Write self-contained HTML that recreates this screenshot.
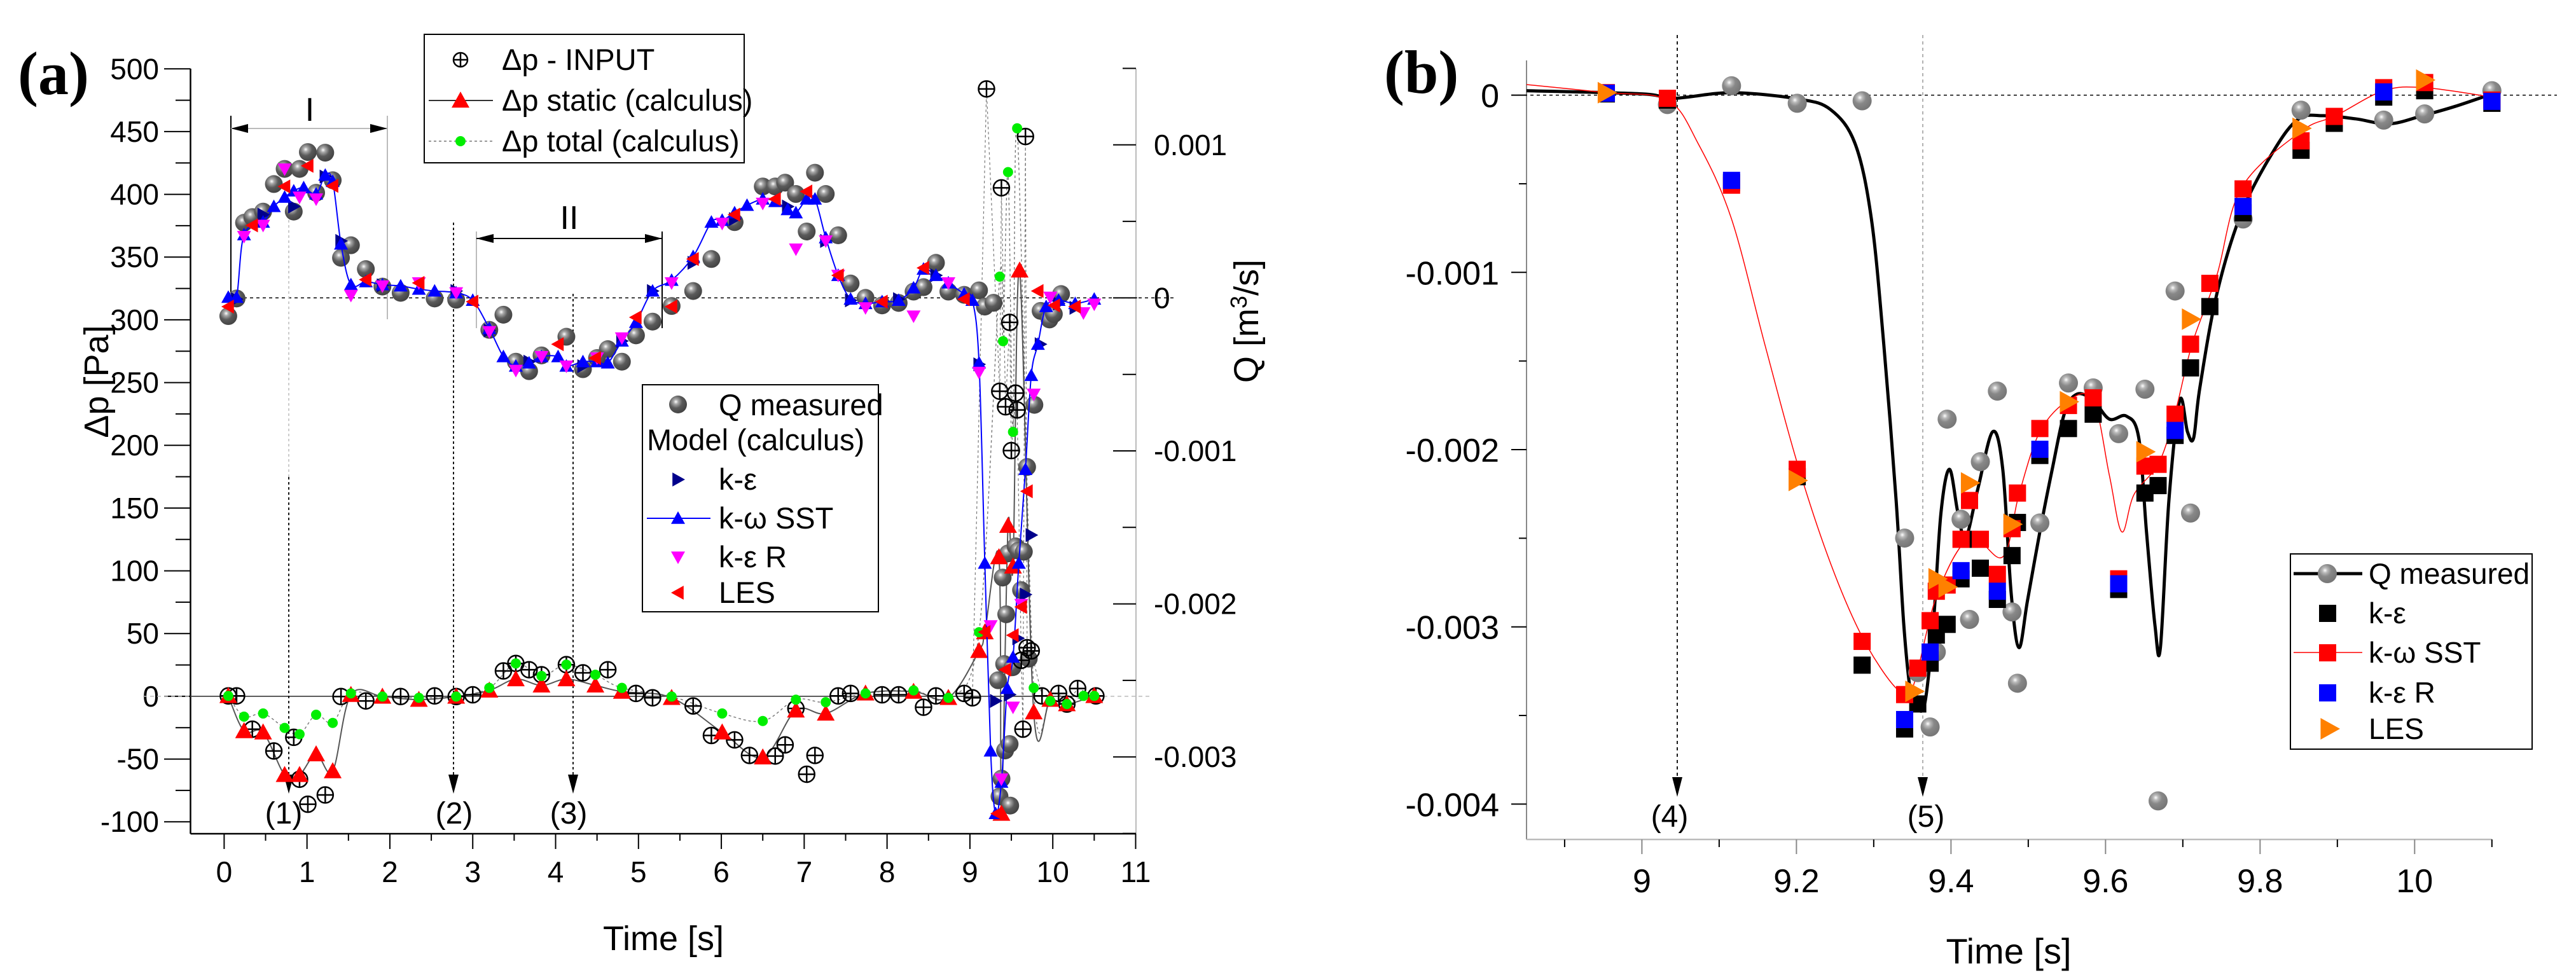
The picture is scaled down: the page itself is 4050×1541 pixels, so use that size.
<!DOCTYPE html>
<html><head><meta charset="utf-8"><style>
html,body{margin:0;padding:0;background:#fff;}
svg{display:block;}
text{font-family:"Liberation Sans",Arial,sans-serif;fill:#000;}
</style></head><body>
<svg id="fig" xmlns="http://www.w3.org/2000/svg" width="4050" height="1541" viewBox="0 0 4050 1541">
<defs>
<radialGradient id="sphA" cx="0.38" cy="0.35" r="0.65"><stop offset="0" stop-color="#fff"/><stop offset="0.2" stop-color="#aaa"/><stop offset="0.55" stop-color="#5a5a5a"/><stop offset="1" stop-color="#444"/></radialGradient>
<radialGradient id="sphB" cx="0.38" cy="0.33" r="0.65"><stop offset="0" stop-color="#fff"/><stop offset="0.2" stop-color="#bbb"/><stop offset="0.5" stop-color="#888"/><stop offset="1" stop-color="#777"/></radialGradient>
<clipPath id="clipA"><rect x="300" y="100" width="1500" height="1211"/></clipPath>
<clipPath id="clipB"><rect x="2400" y="90" width="1540" height="1231"/></clipPath>
</defs>
</svg>
<script>
// ---------- Panel (a) data ----------
// Q measured (units 1e-3 m3/s)
const qmA_t=[0.05,0.15,0.24,0.34,0.47,0.60,0.73,0.84,0.91,1.01,1.11,1.22,1.31,1.41,1.53,1.71,1.91,2.13,2.54,2.80,3.20,3.37,3.52,3.68,3.83,4.13,4.33,4.50,4.63,4.80,4.97,5.17,5.40,5.66,5.88,6.16,6.50,6.65,6.77,6.90,7.03,7.13,7.26,7.41,7.56,7.74,7.94,8.14,8.32,8.44,8.59,8.74,8.93,9.11,9.18];
const qmA_v=[-0.119,-0.004,0.491,0.528,0.564,0.744,0.843,0.564,0.843,0.953,0.687,0.949,0.769,0.262,0.344,0.188,0.074,0.033,-0.004,-0.012,-0.209,-0.110,-0.417,-0.479,-0.376,-0.254,-0.466,-0.393,-0.335,-0.417,-0.245,-0.155,-0.053,0.045,0.254,0.495,0.728,0.728,0.753,0.679,0.434,0.818,0.679,0.409,0.094,0,-0.049,-0.033,0.041,0.070,0.229,0.041,0.020,0.049,-0.057];
const sstA_t=[0.05,0.15,0.24,0.47,0.60,0.73,0.84,0.96,1.11,1.22,1.31,1.41,1.53,1.71,1.91,2.13,2.35,2.54,2.80,3.00,3.20,3.37,3.52,3.68,3.83,4.03,4.13,4.33,4.50,4.63,4.80,4.97,5.17,5.40,5.66,5.88,6.01,6.16,6.31,6.50,6.65,6.80,6.90,7.03,7.13,7.26,7.41,7.56,7.74,7.94,8.14,8.32,8.44,8.59,8.74,8.93,9.03,9.11,9.18,9.25,9.31,9.38,9.45,9.52,9.59,9.67,9.74,9.82,9.92,10.07,10.27,10.50];
const sstA_v=[0.004,0.004,0.413,0.495,0.597,0.658,0.699,0.720,0.679,0.802,0.761,0.352,0.086,0.106,0.086,0.078,0.057,0.045,0.033,-0.016,-0.200,-0.384,-0.446,-0.425,-0.384,-0.384,-0.446,-0.417,-0.417,-0.425,-0.282,-0.160,0.045,0.115,0.270,0.495,0.507,0.556,0.605,0.646,0.630,0.577,0.556,0.646,0.646,0.393,0.147,-0.008,-0.037,-0.025,-0.016,0.065,0.188,0.147,0.098,0.025,-0.016,-0.425,-1.734,-2.961,-3.370,-3.165,-2.552,-2.348,-1.734,-1.121,-0.507,-0.303,-0.057,-0.016,-0.037,-0.008];
const keA_t=[0.15,0.47,0.84,1.22,1.41,1.91,2.80,3.20,3.68,4.33,4.80,5.17,5.66,6.16,6.80,7.26,7.56,8.14,8.59,9.11,9.31,9.48,9.58,9.67,9.74,9.85,10.07,10.27];
const keA_v=[-0.008,0.544,0.597,0.793,0.372,0.082,0.045,-0.213,-0.417,-0.446,-0.282,0.045,0.229,0.515,0.597,0.372,-0.016,-0.008,0.147,-0.434,-2.634,-2.593,-2.225,-1.939,-1.550,-0.303,-0.037,-0.065];
const kerA_t=[0.24,0.47,0.73,0.91,1.11,1.53,1.91,2.35,2.80,3.20,3.52,3.83,4.13,4.50,4.80,5.40,6.01,6.50,6.90,7.26,7.41,7.74,8.32,8.74,9.11,9.25,9.38,9.52,9.62,9.77,9.97,10.37,10.50];
const kerA_v=[0.401,0.474,0.842,0.658,0.646,0.016,0.078,0.098,0.033,-0.221,-0.474,-0.384,-0.446,-0.393,-0.262,0.098,0.487,0.618,0.319,0.372,0.147,-0.065,-0.119,0.098,-0.487,-2.143,-3.145,-2.675,-2.004,-0.630,0.004,-0.098,-0.041];
const lesA_t=[0.05,0.34,0.73,1.01,1.31,1.71,2.35,3.00,4.03,4.48,4.97,5.40,5.66,6.16,6.65,7.03,7.41,7.94,8.44,8.93,9.18,9.33,9.43,9.52,9.62,9.69,9.82,10.02,10.27];
const lesA_v=[-0.057,0.474,0.728,0.863,0.732,0.119,0.098,-0.025,-0.303,-0.393,-0.127,-0.057,0.254,0.544,0.646,0.695,0.147,-0.025,0.196,-0.008,-2.184,-3.370,-2.430,-2.205,-2.020,-1.264,0.045,-0.049,-0.057];
const inA_t=[0.05,0.15,0.34,0.60,0.84,0.91,1.01,1.22,1.41,1.71,2.13,2.54,2.80,3.00,3.37,3.52,3.68,3.83,4.13,4.33,4.63,4.97,5.17,5.66,5.88,6.16,6.34,6.65,6.77,6.90,7.03,7.13,7.41,7.56,7.94,8.14,8.44,8.59,8.93,9.03,9.20,9.36,9.38,9.43,9.48,9.50,9.55,9.57,9.62,9.64,9.67,9.69,9.74,9.87,10.07,10.17,10.30,10.52];
const inA_v=[0.3,0.3,-26.2,-43.6,-32.7,-66.1,-86.0,-78.6,-0.2,-3.7,-0.2,0.3,-0.2,1.2,20.2,26.2,21.2,17.2,25.2,18.7,21.2,2.3,-1.2,-7.7,-31.2,-34.7,-47.1,-47.6,-38.7,-9.7,-62.1,-47.1,0.3,2.3,1.2,1.2,-8.7,0.3,2.3,-1.2,484.0,243.1,405.2,230.7,298.0,195.8,241.6,228.2,28.7,-26.2,446.1,38.7,36.2,0.3,2.3,-6.2,6.2,0.3];
const stA_t=[0.05,0.24,0.47,0.73,0.91,1.11,1.31,1.53,1.91,2.35,2.80,3.20,3.52,3.83,4.13,4.48,4.80,5.40,6.01,6.50,6.90,7.26,7.74,8.32,8.74,9.11,9.18,9.35,9.38,9.46,9.52,9.60,9.77,9.97,10.17,10.50];
const stA_v=[0.3,-27.7,-28.7,-62.6,-62.6,-46.1,-59.6,1.2,-0.2,-2.7,-0.2,4.7,13.7,8.7,13.7,8.7,3.7,-1.2,-28.7,-48.6,-11.2,-13.7,2.3,3.7,-1.2,36.2,51.1,110.9,-93.5,135.9,103.5,339.4,-12.7,-2.7,-6.2,0.3];
const toA_t=[0.05,0.24,0.47,0.73,0.91,1.11,1.31,1.53,1.91,2.35,2.80,3.20,3.52,3.83,4.13,4.48,4.80,5.40,6.01,6.50,6.90,7.26,7.74,8.32,8.74,9.11,9.36,9.40,9.46,9.52,9.57,9.77,9.97,10.17,10.37,10.50];
const toA_v=[0.3,-16.2,-13.7,-25.2,-30.2,-14.7,-21.2,2.3,-0.2,-1.2,-0.2,6.7,26.2,16.2,25.2,17.2,6.7,-0.2,-13.7,-19.7,-2.7,-4.7,2.3,4.7,-1.2,51.1,334.4,283.0,417.7,210.7,452.6,6.7,-3.7,-6.2,0.3,0.3];
const xTicksA=[0,1,2,3,4,5,6,7,8,9,10,11];
const yTicksA=[500,450,400,350,300,250,200,150,100,50,0,-50,-100];
// Q ticks in units of 1e-3 m3/s
const qTicksA=[1,0,-1,-2,-3];
const qLabelsA=["0.001","0","-0.001","-0.002","-0.003"];

// ---------- Panel (b) data ----------
const qmB_t=[9.033,9.116,9.201,9.285,9.340,9.357,9.373,9.381,9.395,9.413,9.424,9.438,9.460,9.479,9.486,9.515,9.552,9.584,9.617,9.651,9.668,9.690,9.710,9.778,9.853,9.960,10.013,10.100];
const qmB_v=[-0.053,0.053,-0.046,-0.032,-2.499,-3.258,-3.565,-3.142,-1.828,-2.393,-2.958,-2.068,-1.670,-2.916,-3.318,-2.414,-1.624,-1.652,-1.910,-1.659,-3.982,-1.105,-2.358,-0.699,-0.085,-0.141,-0.106,0.025];
const curveB_t=[8.850,9.000,9.041,9.116,9.201,9.244,9.276,9.297,9.313,9.329,9.339,9.348,9.355,9.366,9.377,9.387,9.398,9.409,9.419,9.435,9.454,9.467,9.478,9.488,9.499,9.515,9.531,9.547,9.563,9.584,9.605,9.627,9.643,9.653,9.664,9.671,9.682,9.696,9.706,9.714,9.722,9.744,9.776,9.818,9.850,9.882,9.924,9.967,10.010,10.052,10.100];
const curveB_v=[0.025,0.007,-0.018,0.014,-0.021,-0.081,-0.275,-0.699,-1.405,-2.287,-2.993,-3.382,-3.452,-3.434,-2.993,-2.358,-2.111,-2.358,-2.499,-2.217,-1.899,-2.111,-2.817,-3.117,-2.852,-2.464,-2.111,-1.793,-1.687,-1.722,-1.828,-1.811,-1.934,-2.464,-2.993,-3.117,-2.287,-1.722,-1.899,-1.934,-1.652,-1.122,-0.663,-0.311,-0.134,-0.116,-0.134,-0.162,-0.116,-0.064,0.007];
const sstLine_t=[8.850,8.954,9.033,9.073,9.116,9.159,9.201,9.244,9.286,9.329,9.350,9.382,9.424,9.467,9.488,9.515,9.552,9.584,9.605,9.621,9.637,9.669,9.690,9.712,9.744,9.776,9.853,9.898,9.960,10.013,10.100];
const sstLine_v=[0.060,0.014,-0.028,-0.275,-0.699,-1.405,-2.075,-2.640,-3.064,-3.346,-3.346,-2.817,-2.499,-2.605,-2.252,-1.899,-1.722,-1.722,-2.146,-2.464,-2.252,-2.075,-1.793,-1.405,-1.017,-0.523,-0.205,-0.116,0.025,0.042,-0.011];
const modB_t=[8.954,9.033,9.116,9.201,9.285,9.340,9.357,9.373,9.381,9.395,9.413,9.424,9.438,9.460,9.479,9.486,9.515,9.552,9.584,9.617,9.651,9.668,9.690,9.710,9.735,9.778,9.853,9.896,9.960,10.013,10.100];
const sstB_v=[0.014,-0.018,-0.508,-2.111,-3.082,-3.382,-3.233,-2.965,-2.799,-2.764,-2.506,-2.287,-2.506,-2.704,-2.446,-2.245,-1.881,-1.751,-1.708,-2.729,-2.093,-2.083,-1.800,-1.405,-1.062,-0.529,-0.258,-0.120,0.042,0.071,-0.028];
const keB_v=[0.007,-0.028,-0.494,-2.153,-3.216,-3.576,-3.435,-3.205,-3.046,-2.986,-2.729,-2.506,-2.669,-2.845,-2.598,-2.411,-2.033,-1.881,-1.800,-2.789,-2.245,-2.203,-1.920,-1.539,-1.193,-0.664,-0.311,-0.159,-0.011,0.025,-0.046];
const kerB_t=[8.954,9.116,9.340,9.373,9.413,9.460,9.515,9.617,9.690,9.778,9.960,10.100];
const kerB_v=[0.011,-0.481,-3.523,-3.142,-2.683,-2.799,-1.998,-2.757,-1.892,-0.628,0.018,-0.035];
const lesB_t=[8.954,9.201,9.352,9.382,9.395,9.424,9.479,9.552,9.651,9.710,9.853,10.013];
const lesB_v=[0.014,-2.174,-3.364,-2.729,-2.775,-2.188,-2.421,-1.730,-2.012,-1.264,-0.187,0.085];
const xTicksB=[9,9.2,9.4,9.6,9.8,10];
const xLabelsB=["9","9.2","9.4","9.6","9.8","10"];
const yTicksB=[0,-1,-2,-3,-4];
const yLabelsB=["0","-0.001","-0.002","-0.003","-0.004"];

// ---------- axis functions ----------
const xA=t=>352.4+t*130.28;
const yP=v=>1094.9-v*1.9733;
const yQ=v=>468.4-v*240.6;
const xB=t=>2581.4+(t-9)*1214.9;
const yB=v=>149.6-v*278.7;

const NS="http://www.w3.org/2000/svg";
const svg=document.getElementById('fig');
function mk(tag,attrs,parent){const e=document.createElementNS(NS,tag);for(const k in attrs)e.setAttribute(k,attrs[k]);(parent||svg).appendChild(e);return e;}
function grp(name,parent){const g=mk('g',{},parent);


return g;}
function txt(s,x,y,size,parent,anchor,extra){const e=mk('text',Object.assign({x:x,y:y,'font-size':size,'text-anchor':anchor||'start'},extra||{}),parent);e.textContent=s;return e;}
function smooth(P){let d='M'+P[0][0]+','+P[0][1];for(let i=0;i<P.length-1;i++){const p0=P[Math.max(0,i-1)],p1=P[i],p2=P[i+1],p3=P[Math.min(P.length-1,i+2)];const c1=[p1[0]+(p2[0]-p0[0])/6,p1[1]+(p2[1]-p0[1])/6],c2=[p2[0]-(p3[0]-p1[0])/6,p2[1]-(p3[1]-p1[1])/6];d+=' C'+c1[0]+','+c1[1]+' '+c2[0]+','+c2[1]+' '+p2[0]+','+p2[1];}return d;}
function tri(x,y,s,dir,fill,parent){let p;if(dir==='up')p=[[x,y-s],[x+s,y+s*0.8],[x-s,y+s*0.8]];else if(dir==='down')p=[[x,y+s],[x+s,y-s*0.8],[x-s,y-s*0.8]];else if(dir==='left')p=[[x-s,y],[x+s*0.8,y-s],[x+s*0.8,y+s]];else p=[[x+s,y],[x-s*0.8,y-s],[x-s*0.8,y+s]];return mk('polygon',{points:p.map(a=>a.join(',')).join(' '),fill:fill},parent);}
function cplus(x,y,r,parent){const g=mk('g',{},parent);mk('circle',{cx:x,cy:y,r:r,fill:'none',stroke:'#000','stroke-width':2.5},g);mk('line',{x1:x-r,y1:y,x2:x+r,y2:y,stroke:'#000','stroke-width':2.5},g);mk('line',{x1:x,y1:y-r,x2:x,y2:y+r,stroke:'#000','stroke-width':2.5},g);return g;}
const serif='font-family:"Liberation Serif","DejaVu Serif",serif;font-weight:bold;';

// ================= PANEL A =================
const pa=grp('panel-a');
txt('(a)',28,148,96,pa,'start',{style:serif});
const axA=grp('panel-a-axes',pa);
mk('line',{x1:299.5,y1:108,x2:299.5,y2:1311,stroke:'#000','stroke-width':2.5},axA);
mk('line',{x1:299.5,y1:1311,x2:1786,y2:1311,stroke:'#000','stroke-width':2.5},axA);
mk('line',{x1:1786,y1:108,x2:1786,y2:1311,stroke:'#bbb','stroke-width':2},axA);
const xtA=grp('x-axis-ticks-a',axA);
xTicksA.forEach(t=>{const x=xA(t);mk('line',{x1:x,y1:1311,x2:x,y2:1335,stroke:'#000','stroke-width':2},xtA);txt(String(t),x,1387,46,xtA,'middle');if(t<11){mk('line',{x1:xA(t+0.5),y1:1311,x2:xA(t+0.5),y2:1322,stroke:'#000','stroke-width':2},xtA);}});
const ytA=grp('y-axis-ticks-a',axA);
yTicksA.forEach(v=>{const y=yP(v);mk('line',{x1:258,y1:y,x2:299.5,y2:y,stroke:'#000','stroke-width':2},ytA);txt(String(v),250,y+16,46,ytA,'end');if(v>-100)mk('line',{x1:276,y1:yP(v-25),x2:299.5,y2:yP(v-25),stroke:'#000','stroke-width':2},ytA);});
const qtA=grp('q-axis-ticks-a',axA);
qTicksA.forEach((v,i)=>{const y=yQ(v);mk('line',{x1:1750,y1:y,x2:1786,y2:y,stroke:'#000','stroke-width':2},qtA);txt(qLabelsA[i],1814,y+16,46,qtA,'start');});
[1.5,0.5,-0.5,-1.5,-2.5,-3.5].forEach(v=>{mk('line',{x1:1765,y1:yQ(v),x2:1786,y2:yQ(v),stroke:'#000','stroke-width':2},qtA);});
const tA=txt('Time [s]',1043,1494,54,pa,'middle');
const ylA=txt('Δp [Pa]',0,0,54,pa,'middle',{transform:'translate(170,600) rotate(-90)'});
const qlA=mk('text',{transform:'translate(1978,505) rotate(-90)','font-size':54,'text-anchor':'middle'},pa);qlA.innerHTML='Q [m<tspan dy="-18" font-size="36">3</tspan><tspan dy="18">/s]</tspan>';
const refA=grp('reference-lines-a',pa);
mk('line',{x1:353,y1:yQ(0),x2:1790,y2:yQ(0),stroke:'#000','stroke-width':1.5,'stroke-dasharray':'5,5'},refA);
mk('line',{x1:1790,y1:yQ(0),x2:1850,y2:yQ(0),stroke:'#000','stroke-width':1.5,'stroke-dasharray':'5,5'},refA);
mk('line',{x1:299.5,y1:yP(0),x2:1735,y2:yP(0),stroke:'#444','stroke-width':1.8},refA);
mk('line',{x1:1735,y1:yP(0),x2:1810,y2:yP(0),stroke:'#bbb','stroke-width':1.5,'stroke-dasharray':'6,5'},refA);
mk('line',{x1:225,y1:yP(0),x2:299,y2:yP(0),stroke:'#bbb','stroke-width':1.5,'stroke-dasharray':'6,5'},refA);
const br=grp('bracket-annotations',pa);
mk('line',{x1:363,y1:182,x2:363,y2:472,stroke:'#000','stroke-width':2},br);
mk('line',{x1:609,y1:182,x2:609,y2:502,stroke:'#bbb','stroke-width':2},br);
mk('line',{x1:363,y1:202,x2:609,y2:202,stroke:'#bbb','stroke-width':2},br);
mk('polygon',{points:'363,202 390,195 390,209',fill:'#000'},br);mk('polygon',{points:'609,202 582,195 582,209',fill:'#000'},br);
txt('I',487,190,52,br,'middle');
mk('line',{x1:749,y1:364,x2:749,y2:516,stroke:'#bbb','stroke-width':2},br);
mk('line',{x1:1041,y1:364,x2:1041,y2:516,stroke:'#000','stroke-width':2},br);
mk('line',{x1:749,y1:375,x2:1041,y2:375,stroke:'#000','stroke-width':2},br);
mk('polygon',{points:'749,375 776,368 776,382',fill:'#000'},br);mk('polygon',{points:'1041,375 1014,368 1014,382',fill:'#000'},br);
txt('II',895,360,52,br,'middle');
const ev=grp('event-markers-a',pa);
mk('line',{x1:454,y1:330,x2:454,y2:750,stroke:'#ccc','stroke-width':2,'stroke-dasharray':'4,4'},ev);
mk('line',{x1:454,y1:750,x2:454,y2:1220,stroke:'#000','stroke-width':1.8,'stroke-dasharray':'4,4'},ev);
mk('line',{x1:713,y1:350,x2:713,y2:1220,stroke:'#000','stroke-width':1.8,'stroke-dasharray':'4,4'},ev);
mk('line',{x1:901,y1:462,x2:901,y2:1220,stroke:'#000','stroke-width':1.8,'stroke-dasharray':'4,4'},ev);
[[454,'(1)',446],[713,'(2)',714],[901,'(3)',894]].forEach(a=>{mk('polygon',{points:(a[0]-8)+',1218 '+(a[0]+8)+',1218 '+a[0]+',1248',fill:'#000'},ev);txt(a[1],a[2],1295,48,ev,'middle');});
const sA=grp('series-a',pa);sA.setAttribute('clip-path','url(#clipA)');
const tdl=grp('dp-total-line',sA);
mk('path',{d:smooth(toA_t.map((t,i)=>[xA(t),yP(toA_v[i])])),fill:'none',stroke:'#777','stroke-width':1.4,'stroke-dasharray':'4,4'},tdl);
const inl=grp('dp-input-line',sA);
mk('path',{d:'M'+inA_t.map((t,i)=>[t,i]).filter(a=>a[0]>8.9).map(a=>xA(a[0])+','+yP(inA_v[a[1]])).join(' L'),fill:'none',stroke:'#777','stroke-width':1.2,'stroke-dasharray':'4,4'},inl);
const sdl=grp('dp-static-line',sA);
mk('path',{d:smooth(stA_t.map((t,i)=>[xA(t),yP(stA_v[i])])),fill:'none',stroke:'#555','stroke-width':2},sdl);
const qmg=grp('q-measured-a',sA);
qmA_t.forEach((t,i)=>{const c=mk('circle',{cx:xA(t),cy:yQ(qmA_v[i]),r:14,fill:'url(#sphA)'},qmg);

});
qmB_t.forEach((t,i)=>{if(t<9.25)return;const c=mk('circle',{cx:xA(t),cy:yQ(qmB_v[i]),r:14,fill:'url(#sphA)'},qmg);

});
const ing=grp('dp-input-points',sA);
inA_t.forEach((t,i)=>{const c=cplus(xA(t),yP(inA_v[i]),12.5,ing);

});
const stg=grp('dp-static-points',sA);
stA_t.forEach((t,i)=>{const p=tri(xA(t),yP(stA_v[i]),14,'up','#f00',stg);

});
const tog=grp('dp-total-points',sA);
toA_t.forEach((t,i)=>{const c=mk('circle',{cx:xA(t),cy:yP(toA_v[i]),r:8,fill:'#0e0'},tog);

});
const ssl=grp('sst-line-a',sA);
mk('path',{d:smooth(sstA_t.map((t,i)=>[xA(t),yQ(sstA_v[i])])),fill:'none',stroke:'#00f','stroke-width':2},ssl);
const keg=grp('k-epsilon-a',sA);
keA_t.forEach((t,i)=>{const p=tri(xA(t),yQ(keA_v[i]),11,'right','#00008b',keg);

});
const ssg=grp('k-omega-sst-a',sA);
sstA_t.forEach((t,i)=>{const p=tri(xA(t),yQ(sstA_v[i]),11,'up','#00f',ssg);

});
const krg=grp('k-epsilon-r-a',sA);
kerA_t.forEach((t,i)=>{const p=tri(xA(t),yQ(kerA_v[i]),11,'down','#f0f',krg);

});
const lsg=grp('les-a',sA);
lesA_t.forEach((t,i)=>{const p=tri(xA(t),yQ(lesA_v[i]),11,'left','#f00',lsg);

});
const lg1=grp('legend-pressure',pa);
mk('rect',{x:667,y:54,width:503,height:202,fill:'#fff',stroke:'#000','stroke-width':2},lg1);
cplus(724,94,11,lg1);txt('Δp - INPUT',789,110,47,lg1);
mk('line',{x1:674,y1:158,x2:775,y2:158,stroke:'#333','stroke-width':2},lg1);tri(724,158,14,'up','#f00',lg1);txt('Δp static (calculus)',789,174,47,lg1);
mk('line',{x1:674,y1:222,x2:775,y2:222,stroke:'#777','stroke-width':1.5,'stroke-dasharray':'4,4'},lg1);mk('circle',{cx:724,cy:222,r:8,fill:'#0e0'},lg1);txt('Δp total (calculus)',789,238,47,lg1);
const lg2=grp('legend-flow',pa);
mk('rect',{x:1010,y:605,width:371,height:357,fill:'#fff',stroke:'#000','stroke-width':2},lg2);
mk('circle',{cx:1066,cy:636,r:14,fill:'url(#sphA)'},lg2);txt('Q measured',1130,653,47,lg2);
txt('Model (calculus)',1017,708,47,lg2);
tri(1066,754,11,'right','#00008b',lg2);txt('k-ε',1130,770,47,lg2);
mk('line',{x1:1017,y1:815,x2:1117,y2:815,stroke:'#00f','stroke-width':2},lg2);tri(1066,815,11,'up','#00f',lg2);txt('k-ω SST',1130,831,47,lg2);
tri(1066,876,11,'down','#f0f',lg2);txt('k-ε R',1130,892,47,lg2);
tri(1066,932,11,'left','#f00',lg2);txt('LES',1130,948,47,lg2);

// ================= PANEL B =================
const pb=grp('panel-b');
txt('(b)',2176,146,96,pb,'start',{style:serif});
const axB=grp('panel-b-axes',pb);
mk('line',{x1:2400,y1:95,x2:2400,y2:1320,stroke:'#888','stroke-width':2},axB);
mk('line',{x1:2400,y1:1320,x2:3918,y2:1320,stroke:'#bbb','stroke-width':2.5},axB);
const xtB=grp('x-axis-ticks-b',axB);
xTicksB.forEach((t,i)=>{const x=xB(t);mk('line',{x1:x,y1:1320,x2:x,y2:1343,stroke:'#888','stroke-width':2},xtB);txt(xLabelsB[i],x,1403,52,xtB,'middle');});
[8.9,9.1,9.3,9.5,9.7,9.9,10.1].forEach(t=>mk('line',{x1:xB(t),y1:1320,x2:xB(t),y2:1332,stroke:'#000','stroke-width':2},xtB));
const ytB=grp('y-axis-ticks-b',axB);
yTicksB.forEach((v,i)=>{const y=yB(v);mk('line',{x1:2376,y1:y,x2:2400,y2:y,stroke:'#000','stroke-width':2},ytB);txt(yLabelsB[i],2357,y+19,52,ytB,'end');});
[-0.5,-1.5,-2.5,-3.5].forEach(v=>mk('line',{x1:2388,y1:yB(v),x2:2400,y2:yB(v),stroke:'#000','stroke-width':2},ytB));
const tB=txt('Time [s]',3158,1515,56,pb,'middle');
const refB=grp('reference-lines-b',pb);
mk('line',{x1:2376,y1:yB(0),x2:4020,y2:yB(0),stroke:'#000','stroke-width':1.5,'stroke-dasharray':'5,5'},refB);
mk('line',{x1:2637,y1:55,x2:2637,y2:1225,stroke:'#000','stroke-width':1.8,'stroke-dasharray':'5,5'},refB);
mk('line',{x1:3023,y1:55,x2:3023,y2:1225,stroke:'#999','stroke-width':1.5,'stroke-dasharray':'5,5'},refB);
mk('polygon',{points:'2629,1222 2645,1222 2637,1253',fill:'#000'},refB);
mk('polygon',{points:'3015,1222 3031,1222 3023,1253',fill:'#000'},refB);
txt('(4)',2625,1300,48,refB,'middle');txt('(5)',3028,1300,48,refB,'middle');
const sB=grp('series-b',pb);sB.setAttribute('clip-path','url(#clipB)');
const cbl=grp('q-measured-curve',sB);
mk('path',{d:smooth(curveB_t.map((t,i)=>[xB(t),yB(curveB_v[i])])),fill:'none',stroke:'#000','stroke-width':5},cbl);
const rbl=grp('sst-line-b',sB);
mk('path',{d:smooth(sstLine_t.map((t,i)=>[xB(t),yB(sstLine_v[i])])),fill:'none',stroke:'#f00','stroke-width':1.5},rbl);
const qbg=grp('q-measured-b',sB);
qmB_t.forEach((t,i)=>{const c=mk('circle',{cx:xB(t),cy:yB(qmB_v[i]),r:15,fill:'url(#sphB)'},qbg);

});
const keBg=grp('k-epsilon-b',sB);
modB_t.forEach((t,i)=>{const r=mk('rect',{x:xB(t)-13.5,y:yB(keB_v[i])-13.5,width:27,height:27,fill:'#000'},keBg);

});
const ssBg=grp('k-omega-sst-b',sB);
modB_t.forEach((t,i)=>{const r=mk('rect',{x:xB(t)-13.5,y:yB(sstB_v[i])-13.5,width:27,height:27,fill:'#f00'},ssBg);

});
const krBg=grp('k-epsilon-r-b',sB);
kerB_t.forEach((t,i)=>{const r=mk('rect',{x:xB(t)-13.5,y:yB(kerB_v[i])-13.5,width:27,height:27,fill:'#00f'},krBg);

});
const lsBg=grp('les-b',sB);
lesB_t.forEach((t,i)=>{const p=tri(xB(t),yB(lesB_v[i]),17,'right','#ff8000',lsBg);

});
const lgB=grp('legend-b',pb);
mk('rect',{x:3601,y:871,width:380,height:307,fill:'#fff',stroke:'#000','stroke-width':2},lgB);
mk('line',{x1:3606,y1:902,x2:3714,y2:902,stroke:'#000','stroke-width':5},lgB);mk('circle',{cx:3659,cy:902,r:15,fill:'url(#sphB)'},lgB);txt('Q measured',3724,918,46,lgB);
mk('rect',{x:3646,y:951,width:27,height:27,fill:'#000'},lgB);txt('k-ε',3724,980,46,lgB);
mk('line',{x1:3606,y1:1026,x2:3714,y2:1026,stroke:'#f00','stroke-width':1.5},lgB);mk('rect',{x:3646,y:1013,width:27,height:27,fill:'#f00'},lgB);txt('k-ω SST',3724,1042,46,lgB);
mk('rect',{x:3646,y:1076,width:27,height:27,fill:'#00f'},lgB);txt('k-ε R',3724,1105,46,lgB);
tri(3662,1146,17,'right','#ff8000',lgB);txt('LES',3724,1162,46,lgB);
</script>
</body></html>
